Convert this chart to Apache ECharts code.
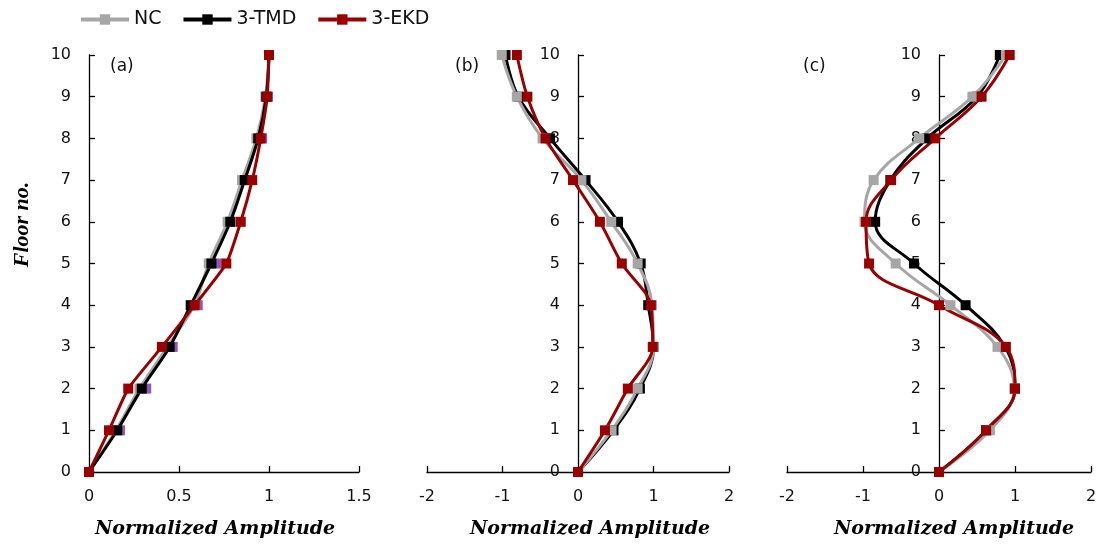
<!DOCTYPE html>
<html><head><meta charset="utf-8">
<script src="https://cdn.jsdelivr.net/npm/echarts@6/dist/echarts.min.js"></script>
<style>html,body{margin:0;padding:0;background:#fff}#c{width:1101px;height:549px}</style>
</head><body><div id="c"></div>
<script>
const floors = [0,1,2,3,4,5,6,7,8,9,10];
// Panel (a)
const ncA  = [0, 0.150, 0.280, 0.435, 0.585, 0.665, 0.770, 0.850, 0.930, 0.980, 1.0];
const tmdA = [0, 0.157, 0.293, 0.448, 0.565, 0.680, 0.785, 0.865, 0.940, 0.985, 1.0];
const ekdA = [0, 0.111, 0.218, 0.405, 0.587, 0.763, 0.843, 0.907, 0.954, 0.990, 1.0];
const markA = [0, 0.172, 0.318, 0.465, 0.604, 0.709, 0.785, 0.870, 0.962, 0.994, 1.0];
// Panel (b)
const ncB  = [0, 0.445, 0.790, 1.000, 0.980, 0.790, 0.440, 0.045, -0.470, -0.810, -1.010];
const tmdB = [0, 0.470, 0.820, 1.000, 0.930, 0.830, 0.530, 0.100, -0.370, -0.790, -0.960];
const ekdB = [0, 0.357, 0.660, 0.990, 0.965, 0.580, 0.290, -0.066, -0.430, -0.670, -0.810];
// Panel (c)
const ncC  = [0, 0.670, 0.990, 0.770, 0.150, -0.570, -0.980, -0.860, -0.260, 0.440, 0.880];
const tmdC = [0, 0.620, 1.000, 0.870, 0.350, -0.330, -0.840, -0.640, -0.155, 0.500, 0.800];
const ekdC = [0, 0.620, 1.000, 0.880, 0.000, -0.920, -0.960, -0.630, -0.050, 0.560, 0.930];
const panelLabels = ['(a)', '(b)', '(c)'];

const GRAY = '#A6A6A6', BLACK = '#000000', RED = '#990000', PURPLE = '#7030A0';
const tickFont = '"DejaVu Sans", "Noto Sans", sans-serif';
const serifWide = '"DejaVu Serif", "Liberation Serif", serif';

const pair = xs => xs.map((x, i) => [x, floors[i]]);

const grids = [
  {left: 89, width: 270, top: 55, height: 417},
  {left: 427, width: 302, top: 55, height: 417},
  {left: 787, width: 304, top: 55, height: 417}
];
const xRanges = [[0, 1.5, 0.5], [-2, 2, 1], [-2, 2, 1]];
// horizontal nudges of the axis titles (padding [t, r, b, l])
const xNamePad = [[0, 18, 0, 0], [0, 0, 0, 24], [0, 0, 0, 30]];
// y labels sit next to the zero line (ECharts keeps them at the grid edge otherwise)
const yLabelMargin = [18, 18 - 151, 18 - 152];

const xAxes = xRanges.map((r, i) => ({
  type: 'value', gridIndex: i, min: r[0], max: r[1], interval: r[2],
  name: 'Normalized Amplitude', nameLocation: 'middle', nameGap: 48,
  nameTextStyle: {fontFamily: serifWide, fontWeight: 'bold', fontStyle: 'italic', fontSize: 19, color: '#000', padding: xNamePad[i]},
  axisLine: {onZero: false, lineStyle: {color: '#000', width: 1.3}},
  axisTick: {inside: true, length: 6, lineStyle: {color: '#000', width: 1.3}},
  axisLabel: {fontFamily: tickFont, fontSize: 16, color: '#111', margin: 17},
  splitLine: {show: false}
}));
const yAxes = [0,1,2].map(i => ({
  type: 'value', gridIndex: i, min: 0, max: 10, interval: 1,
  name: i === 0 ? 'Floor no.' : '', nameLocation: 'middle', nameGap: 56,
  nameTextStyle: {fontFamily: '"Liberation Serif", serif', fontWeight: 'bold', fontStyle: 'italic', fontSize: 22, color: '#000', padding: [0, 0, 0, 78]},
  axisLine: {onZero: true, lineStyle: {color: '#000', width: 1.3}},
  axisTick: {inside: true, length: 6, lineStyle: {color: '#000', width: 1.3}},
  axisLabel: {fontFamily: tickFont, fontSize: 16, color: '#111', margin: yLabelMargin[i]},
  splitLine: {show: false}
}));

function line(name, data, color, gi, smooth, symColor) {
  return {
    type: 'line', name, xAxisIndex: gi, yAxisIndex: gi, data: pair(data),
    smooth, symbol: 'rect', symbolSize: 10,
    lineStyle: {color, width: 3}, itemStyle: {color: symColor || color},
    emphasis: {disabled: true}, animation: false
  };
}

const series = [
  {type: 'scatter', name: 'mark', xAxisIndex: 0, yAxisIndex: 0, data: pair(markA),
   symbol: 'rect', symbolSize: 10, itemStyle: {color: PURPLE}, animation: false, silent: true},
  line('NC', ncA, GRAY, 0, 0.3),
  line('3-TMD', tmdA, BLACK, 0, 0.3),
  line('3-EKD', ekdA, RED, 0, 0.15),
  line('3-TMD', tmdB, BLACK, 1, 0.4),
  line('NC', ncB, GRAY, 1, 0.4),
  line('3-EKD', ekdB, RED, 1, 0.3),
  line('3-TMD', tmdC, BLACK, 2, 0.4),
  line('NC', ncC, GRAY, 2, 0.4),
  line('3-EKD', ekdC, RED, 2, 0.4)
];

const labelPos = [[110, 58], [455, 58], [803, 58]];
const chart = echarts.init(document.getElementById('c'), null, {renderer: 'canvas'});
chart.setOption({
  backgroundColor: '#fff',
  animation: false,
  legend: {
    left: 74, top: 5, itemWidth: 48, itemHeight: 13, itemGap: 20,
    data: [
      {name: 'NC', itemStyle: {color: GRAY}, lineStyle: {width: 4}},
      {name: '3-TMD', itemStyle: {color: BLACK}, lineStyle: {width: 4}},
      {name: '3-EKD', itemStyle: {color: RED}, lineStyle: {width: 4}}
    ],
    textStyle: {fontFamily: tickFont, fontSize: 19, color: '#111'}
  },
  grid: grids,
  xAxis: xAxes,
  yAxis: yAxes,
  series,
  graphic: panelLabels.map((t, i) => ({
    type: 'text', left: labelPos[i][0], top: labelPos[i][1],
    style: {text: t, font: '17px ' + tickFont, fill: '#111'}
  }))
});
</script></body></html>
